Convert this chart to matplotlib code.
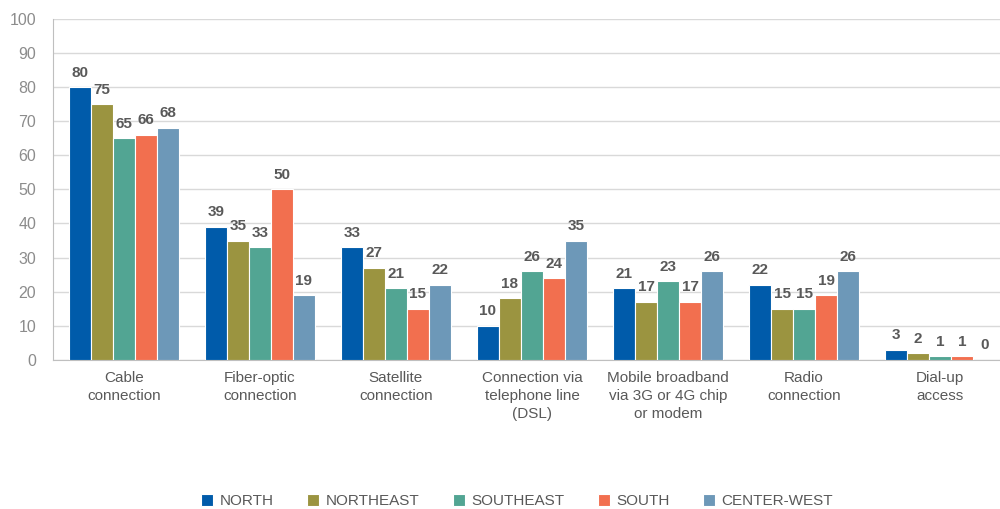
import numpy as np
import matplotlib.pyplot as plt

categories = ["Cable\nconnection", "Fiber-optic\nconnection", "Satellite\nconnection",
              "Connection via\ntelephone line\n(DSL)", "Mobile broadband\nvia 3G or 4G chip\nor modem",
              "Radio\nconnection", "Dial-up\naccess"]
regions = ["NORTH", "NORTHEAST", "SOUTHEAST", "SOUTH", "CENTER-WEST"]
north = [80, 39, 33, 10, 21, 22, 3]
northeast = [75, 35, 27, 18, 17, 15, 2]
southeast = [65, 33, 21, 26, 23, 15, 1]
south = [66, 50, 15, 24, 17, 19, 1]
center_west = [68, 19, 22, 35, 26, 26, 0]
colors = ["#005BAA", "#9B9440", "#52A593", "#F26F4F", "#6D98B8"]

plt.rcParams['font.family'] = ['Liberation Sans', 'DejaVu Sans']
fig = plt.figure(figsize=(10, 5.09), dpi=100)
ax = fig.add_axes([0.053, 0.293, 0.947, 0.67])

x = np.arange(len(categories))
w = 0.162
series = [north, northeast, southeast, south, center_west]
for i, (vals, name, c) in enumerate(zip(series, regions, colors)):
    pos = x + (i - 2) * w
    ax.bar(pos, vals, w, color=c, edgecolor="white", linewidth=0.8, label=name, zorder=3)
    for px, v in zip(pos, vals):
        ax.text(px, v + 2.2, str(v), ha="center", va="bottom", fontsize=11,
                fontweight="bold", color="#595959", zorder=4)

ax.set_ylim(0, 100)
ax.set_yticks(range(0, 101, 10))
ax.set_xlim(-0.52, 6.44)
ax.set_xticks(x)
ax.set_xticklabels(categories, fontsize=11, color="#595959", linespacing=1.35)
ax.tick_params(axis="y", labelsize=11.5, labelcolor="#8c8c8c", length=0, pad=12)
ax.tick_params(axis="x", length=0, pad=8)
ax.grid(axis="y", color="#d9d9d9", linewidth=1, zorder=0)
for s in ["top", "right"]:
    ax.spines[s].set_visible(False)
ax.spines["left"].set_color("#bfbfbf")
ax.spines["bottom"].set_color("#bfbfbf")

ax.legend(loc="center", bbox_to_anchor=(0.49, -0.415), ncol=5, frameon=False,
          fontsize=11, handlelength=0.8, handleheight=0.8, columnspacing=2.2,
          handletextpad=0.4, labelcolor="#595959")

fig.savefig("out.png", dpi=100)
